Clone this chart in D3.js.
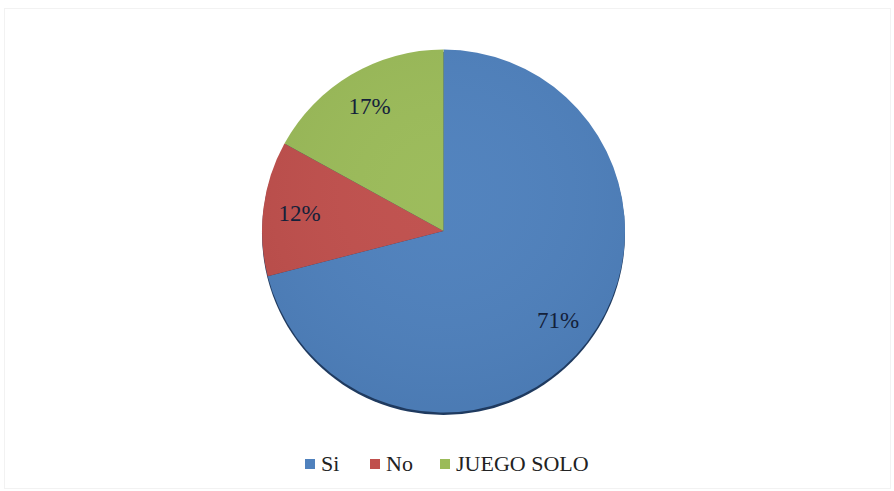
<!DOCTYPE html>
<html>
<head>
<meta charset="utf-8">
<script src="https://cdn.jsdelivr.net/npm/d3@7"></script>
<style>
body{margin:0;background:#fff;}
svg{display:block;}
</style>
</head>
<body>
<svg id="chart" width="894" height="491"></svg>
<script>
// data
var categories=["Si","No","JUEGO SOLO"];
var values=[71,12,17];
var colors=["#4F81BD","#C0504D","#9BBB59"];

var svg=d3.select("#chart");
var cx=443.5, cy=231, outerRadius=181.5, labelRadius=145;

// faint frame
svg.append("rect")
	.attr("x",4.5).attr("y",8.5)
	.attr("width",886).attr("height",480)
	.attr("fill","none")
	.attr("stroke","#f2f2f2");

var data=categories.map(function(c,i){ return {name:c,value:values[i],color:colors[i]}; });

var arcs=d3.pie()
	.sort(null)
	.value(function(d){ return d.value; })
	(data);

var arc=d3.arc()
	.outerRadius(outerRadius)
	.innerRadius(0);

var labelArc=d3.arc()
	.outerRadius(labelRadius)
	.innerRadius(labelRadius);

var defs=svg.append("defs");
var grad=defs.append("radialGradient").attr("id","shade")
	.attr("cx","50%").attr("cy","40%").attr("r","60%");
grad.append("stop").attr("offset","0%").attr("stop-color","#fff").attr("stop-opacity",0.02);
grad.append("stop").attr("offset","100%").attr("stop-color","#000").attr("stop-opacity",0.05);

var pieG=svg.append("g")
	.attr("transform","translate("+cx+","+cy+")");

// dark bevel at the bottom edge
pieG.append("circle")
	.attr("cx",0).attr("cy",2.5)
	.attr("r",outerRadius)
	.attr("fill","#1f3a5f");

pieG.selectAll("path.slice")
	.data(arcs)
	.enter()
	.append("path")
	.attr("class","slice")
	.attr("d",arc)
	.attr("fill",function(d){ return d.data.color; });

pieG.append("circle")
	.attr("r",outerRadius)
	.attr("fill","url(#shade)");

pieG.selectAll("text.lbl")
	.data(arcs)
	.enter()
	.append("text")
	.attr("class","lbl")
	.attr("transform",function(d){ return "translate("+labelArc.centroid(d)+")"; })
	.attr("text-anchor","middle")
	.attr("dy","0.35em")
	.attr("font-family","Liberation Serif")
	.attr("font-size",23)
	.attr("fill","#14213a")
	.text(function(d){ return d.data.value+"%"; });

// legend
var legendX=[305,370,440];
var legend=svg.append("g");
var items=legend.selectAll("g.item")
	.data(data)
	.enter()
	.append("g")
	.attr("class","item")
	.attr("transform",function(d,i){ return "translate("+legendX[i]+",463)"; });
items.append("rect")
	.attr("x",0).attr("y",-4)
	.attr("width",10).attr("height",10)
	.attr("fill",function(d){ return d.color; });
items.append("text")
	.attr("x",16)
	.attr("dy","0.35em")
	.attr("font-family","Liberation Serif")
	.attr("font-size",22)
	.attr("fill","#222")
	.text(function(d){ return d.name; });
</script>
</body>
</html>
